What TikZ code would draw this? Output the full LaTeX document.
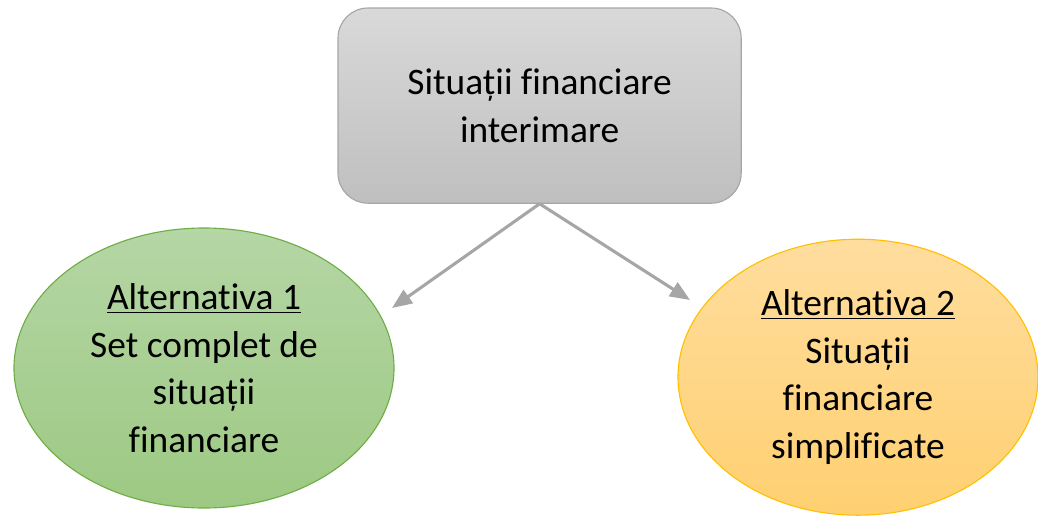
\documentclass[tikz,border=0pt]{standalone}
\usepackage{fontspec}
\setmainfont{Carlito}[Ligatures=NoCommon]
\usetikzlibrary{arrows.meta,shapes.geometric}
\definecolor{boxtop}{HTML}{D9D9D9}
\definecolor{boxbot}{HTML}{BFBFBF}
\definecolor{boxline}{HTML}{A6A6A6}
\definecolor{greentop}{HTML}{B5D6A5}
\definecolor{greenbot}{HTML}{9DC983}
\definecolor{greenline}{HTML}{70AD47}
\definecolor{orangetop}{HTML}{FFDD9E}
\definecolor{orangebot}{HTML}{FFD071}
\definecolor{orangeline}{HTML}{FFC000}
\begin{document}
\begin{tikzpicture}[
  every node/.style={font=\fontsize{26.6}{33.8}\selectfont, align=center},
  link/.style={draw=boxline, line width=2.2pt, -{Triangle[length=0.5cm, width=0.4cm]}}
]
\useasboundingbox (0,0) rectangle (25.95,-12.9);

\node[draw=boxline, line width=0.8pt, rounded corners=0.75cm, top color=boxtop, bottom color=boxbot,
  minimum width=10.08cm, minimum height=4.88cm](top) at (13.49, -2.64) {Situații financiare\\interimare};

\node[ellipse, draw=greenline, line width=0.8pt, top color=greentop, bottom color=greenbot,
  minimum width=9.5cm, minimum height=7cm, inner sep=0pt](alt1) at (5.1, -9.2)
  {\underline{Alternativa 1}\\Set complet de\\situații\\financiare};
\node[ellipse, draw=orangeline, line width=0.8pt, top color=orangetop, bottom color=orangebot,
  minimum width=9.0cm, minimum height=6.9cm, inner sep=0pt](alt2) at (21.45, -9.43)
  {\underline{Alternativa 2}\\Situații\\financiare\\simplificate};

\coordinate (end1) at (9.8, -7.7);
\coordinate (end2) at (17.25, -7.5);

\draw[link] (top.south) -- (end1);
\draw[link] (top.south) -- (end2);

\end{tikzpicture}
\end{document}
